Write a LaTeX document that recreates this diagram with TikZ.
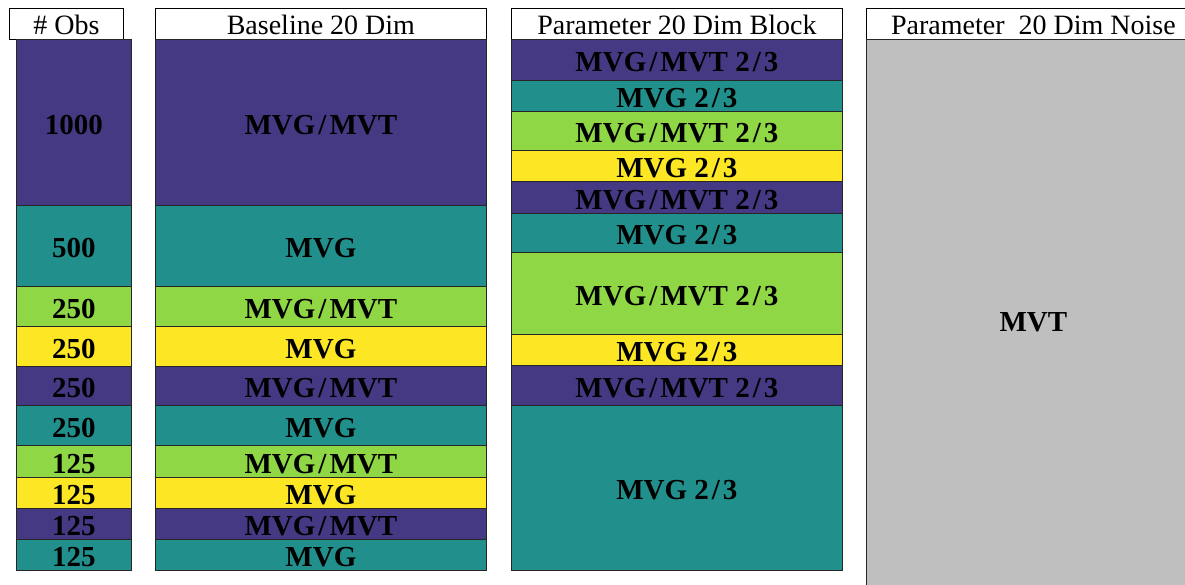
\documentclass[tikz,border=0pt]{standalone}
\usepackage{fontspec}
\setmainfont{Liberation Serif}
\definecolor{vpurple}{RGB}{69,57,131}
\definecolor{vteal}{RGB}{33,144,140}
\definecolor{vgreen}{RGB}{143,215,68}
\definecolor{vyellow}{RGB}{253,231,36}
\definecolor{vgray}{RGB}{191,191,191}
\newcommand\slsh{\kern3pt/\kern3pt}
\newcommand\mycell[7]{\node[cell,fill=#6,minimum width=#4pt,minimum height=#5pt] (#1) at (#2,#3) {\raisebox{-2.5pt}[\height][\depth]{#7}};}
\begin{document}
\begin{tikzpicture}[x=1pt,y=-1pt,
 cell/.style={draw=black!85, line width=0.8pt, anchor=north west, inner sep=0pt, font=\fontsize{29}{31}\selectfont\bfseries, text=black},
 head/.style={draw=black, line width=0.8pt, fill=white, anchor=north west, inner sep=0pt, minimum height=31pt, font=\fontsize{28}{30}\selectfont}]
\useasboundingbox (0,0) rectangle (1185,584);
\clip (0,0) rectangle (1185,584);
% headers
\node[head, minimum width=114pt] (h1) at (9,8) {\raisebox{-1pt}[\height][\depth]{\# Obs}};
\node[head, minimum width=331pt] (h2) at (155,8) {\raisebox{-1pt}[\height][\depth]{Baseline 20 Dim}};
\node[head, minimum width=331pt] (h3) at (511,8) {\raisebox{-1pt}[\height][\depth]{Parameter 20 Dim Block}};
\node[head, minimum width=334pt] (h4) at (866,8) {\raisebox{-1pt}[\height][\depth]{Parameter\ \ 20 Dim Noise}};
% column 1
\mycell{o1}{16}{39}{115}{166}{vpurple}{1000}
\mycell{o2}{16}{205}{115}{81}{vteal}{500}
\mycell{o3}{16}{286}{115}{40}{vgreen}{250}
\mycell{o4}{16}{326}{115}{40}{vyellow}{250}
\mycell{o5}{16}{366}{115}{39}{vpurple}{250}
\mycell{o6}{16}{405}{115}{40}{vteal}{250}
\mycell{o7}{16}{445}{115}{32}{vgreen}{125}
\mycell{o8}{16}{477}{115}{31}{vyellow}{125}
\mycell{o9}{16}{508}{115}{31}{vpurple}{125}
\mycell{o10}{16}{539}{115}{31}{vteal}{125}
% column 2
\mycell{b1}{155}{39}{331}{166}{vpurple}{MVG\slsh MVT}
\mycell{b2}{155}{205}{331}{81}{vteal}{MVG}
\mycell{b3}{155}{286}{331}{40}{vgreen}{MVG\slsh MVT}
\mycell{b4}{155}{326}{331}{40}{vyellow}{MVG}
\mycell{b5}{155}{366}{331}{39}{vpurple}{MVG\slsh MVT}
\mycell{b6}{155}{405}{331}{40}{vteal}{MVG}
\mycell{b7}{155}{445}{331}{32}{vgreen}{MVG\slsh MVT}
\mycell{b8}{155}{477}{331}{31}{vyellow}{MVG}
\mycell{b9}{155}{508}{331}{31}{vpurple}{MVG\slsh MVT}
\mycell{b10}{155}{539}{331}{31}{vteal}{MVG}
% column 3
\mycell{p1}{511}{39}{331}{41}{vpurple}{MVG\slsh MVT 2\slsh 3}
\mycell{p2}{511}{80}{331}{31}{vteal}{MVG 2\slsh 3}
\mycell{p3}{511}{111}{331}{39}{vgreen}{MVG\slsh MVT 2\slsh 3}
\mycell{p4}{511}{150}{331}{31}{vyellow}{MVG 2\slsh 3}
\mycell{p5}{511}{181}{331}{32}{vpurple}{MVG\slsh MVT 2\slsh 3}
\mycell{p6}{511}{213}{331}{39}{vteal}{MVG 2\slsh 3}
\mycell{p7}{511}{252}{331}{82}{vgreen}{MVG\slsh MVT 2\slsh 3}
\mycell{p8}{511}{334}{331}{31}{vyellow}{MVG 2\slsh 3}
\mycell{p9}{511}{365}{331}{40}{vpurple}{MVG\slsh MVT 2\slsh 3}
\mycell{p10}{511}{405}{331}{165}{vteal}{MVG 2\slsh 3}
% column 4
\mycell{n1}{866}{39}{334}{560}{vgray}{MVT}
\end{tikzpicture}
\end{document}
